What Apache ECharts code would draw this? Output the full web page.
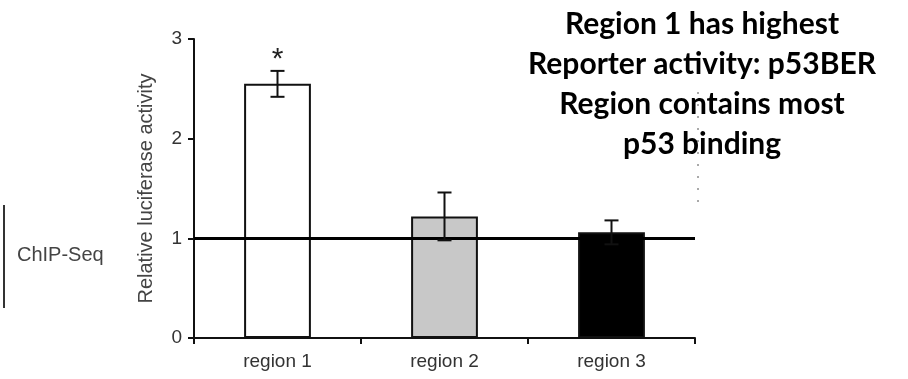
<!DOCTYPE html>
<html>
<head>
<meta charset="utf-8">
<script src="https://cdn.jsdelivr.net/npm/echarts@6/dist/echarts.min.js"></script>
<style>
  html, body { margin: 0; padding: 0; background: #fff; }
  #chart { width: 908px; height: 379px; }
</style>
</head>
<body>
<div id="chart"></div>
<script>
// data
const regions = ['region 1', 'region 2', 'region 3'];
const activity = [2.55, 1.22, 1.06];
const errors = [0.13, 0.24, 0.12];
const signif = ['*', '', ''];
const barColors = ['#ffffff', '#c8c8c8', '#000000'];
const yTicks = [0, 1, 2, 3];
const baseline = 1;
const noteLines = ['Region 1 has highest', 'Reporter activity: p53BER', 'Region contains most', 'p53 binding'];

const chart = echarts.init(document.getElementById('chart'));
const font = '"Liberation Sans", Arial, sans-serif';

const option = {
  animation: false,
  grid: { left: 194, right: 213, top: 39, bottom: 41 },
  xAxis: {
    type: 'category',
    data: regions,
    axisLine: { lineStyle: { color: '#111', width: 2 } },
    axisTick: { show: true, length: 6, lineStyle: { color: '#111', width: 2 } },
    axisLabel: { color: '#333', fontSize: 19, fontFamily: font, margin: 14 }
  },
  yAxis: {
    type: 'value',
    min: yTicks[0],
    max: yTicks[yTicks.length - 1],
    interval: 1,
    name: 'Relative luciferase activity',
    nameLocation: 'middle',
    nameGap: 38,
    nameTextStyle: { color: '#444', fontSize: 20, fontFamily: font },
    axisLine: { show: true, lineStyle: { color: '#111', width: 2 } },
    axisTick: { show: true, length: 6, lineStyle: { color: '#111', width: 2 } },
    axisLabel: { color: '#333', fontSize: 19, fontFamily: font, margin: 12 },
    splitLine: { show: false }
  },
  series: [
    {
      type: 'bar',
      barWidth: '40%',
      data: activity.map((v, i) => ({
        value: v,
        itemStyle: { color: barColors[i], borderColor: '#111', borderWidth: 2 }
      })),
      markLine: {
        silent: true,
        symbol: 'none',
        label: { show: false },
        lineStyle: { color: '#000', width: 3, type: 'solid' },
        data: [{ yAxis: baseline }]
      }
    },
    {
      type: 'custom',
      z: 5,
      data: activity.map((v, i) => [i, v, errors[i]]),
      encode: { x: 0, y: 1 },
      renderItem: function (params, api) {
        const i = api.value(0), v = api.value(1), e = api.value(2);
        const top = api.coord([i, v + e]);
        const bot = api.coord([i, v - e]);
        const half = 7;
        const st = { stroke: '#111', lineWidth: 2 };
        const kids = [
          { type: 'line', shape: { x1: top[0], y1: top[1], x2: bot[0], y2: bot[1] }, style: st },
          { type: 'line', shape: { x1: top[0] - half, y1: top[1], x2: top[0] + half, y2: top[1] }, style: st },
          { type: 'line', shape: { x1: bot[0] - half, y1: bot[1], x2: bot[0] + half, y2: bot[1] }, style: st }
        ];
        const mark = signif[params.dataIndex];
        if (mark) {
          kids.push({
            type: 'text',
            style: {
              text: mark, x: top[0], y: top[1] + 4,
              textAlign: 'center', textVerticalAlign: 'bottom',
              fontSize: 30, fontFamily: font, fill: '#222'
            }
          });
        }
        return { type: 'group', children: kids };
      }
    }
  ],
  graphic: [
    {
      type: 'line',
      shape: { x1: 4, y1: 205, x2: 4, y2: 308 },
      style: { stroke: '#333', lineWidth: 2 }
    },
    {
      type: 'text',
      style: { text: 'ChIP-Seq', x: 17, y: 255, textVerticalAlign: 'middle', fontSize: 20, fontFamily: font, fill: '#444' }
    },
    {
      type: 'line',
      shape: { x1: 698, y1: 92, x2: 698, y2: 212 },
      style: { stroke: '#555', lineWidth: 1, lineDash: [2, 10] }
    },
    {
      type: 'text',
      style: {
        text: noteLines.join('\n'), x: 702, y: 4,
        textAlign: 'center', fontSize: 30, fontWeight: 'bold',
        fontFamily: 'Lato, "Open Sans", sans-serif', fill: '#000', lineHeight: 40
      }
    }
  ]
};

chart.setOption(option);
window.addEventListener('resize', function () { chart.resize(); });
</script>
</body>
</html>
